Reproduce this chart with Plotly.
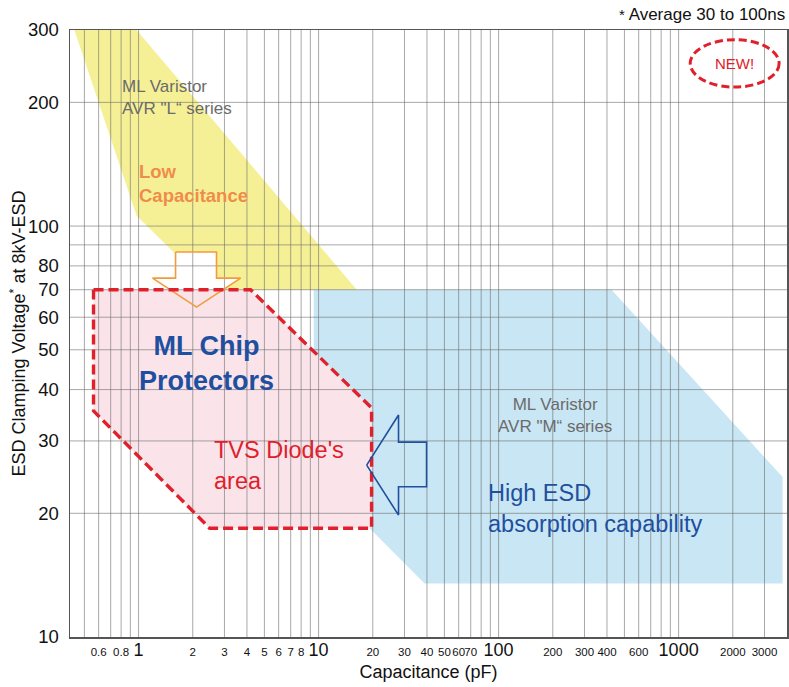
import numpy as np
import plotly.graph_objects as go

FONT = "Liberation Sans, Arial, Helvetica, sans-serif"

# ---- axis extents / grid / ticks ----
X_RANGE = [0.416, 4000]
Y_RANGE = [10, 300]
X_GRID = [0.5, 0.6, 0.7, 0.8, 0.9, 1, 2, 3, 4, 5, 6, 7, 8, 9,
          10, 20, 30, 40, 50, 60, 70, 80, 90,
          100, 200, 300, 400, 500, 600, 700, 800, 900, 1000, 2000, 3000]
Y_GRID = [20, 30, 40, 50, 60, 70, 80, 90, 100, 200]
X_TICKS = [0.6, 0.8, 1, 2, 3, 4, 5, 6, 7, 8, 10, 20, 30, 40, 50, 60, 70,
           100, 200, 300, 400, 600, 1000, 2000, 3000]
X_TICK_TEXT = ["0.6", "0.8", "1", "2", "3", "4", "5", "6", "7", "8", "10", "20",
               "30", "40", "50", "60", "70", "100", "200", "300", "400", "600",
               "1000", "2000", "3000"]
X_MAJOR = ["1", "10", "100", "1000"]
Y_TICKS = [10, 20, 30, 40, 50, 60, 70, 80, 100, 200, 300]
Y_TICK_TEXT = ["10", "20", "30", "40", "50", "60", "70", "80", "100", "200", "300"]

# ---- regions (capacitance pF, clamping voltage V) ----
avr_l_cap = [0.44, 0.975, 16.3, 2.55, 0.975, 0.44]
avr_l_volt = [300, 300, 70, 70, 106, 300]
avr_m_cap = [9.4, 424, 3780, 3780, 38.8, 9.4, 9.4]
avr_m_volt = [70, 70, 24.5, 13.5, 13.5, 25.2, 70]
tvs_cap = [0.562, 4.19, 19.7, 19.7, 2.48, 0.562, 0.562]
tvs_volt = [70, 70, 36.1, 18.4, 18.4, 35.5, 70]
low_arrow_cap = [1.605, 2.71, 2.71, 3.69, 2.10, 1.196, 1.605, 1.605]
low_arrow_volt = [86.5, 86.5, 74.7, 74.7, 63.5, 74.7, 74.7, 86.5]
high_arrow_cap = [18.5, 27.8, 27.8, 39.8, 39.8, 27.8, 27.8, 18.5]
high_arrow_volt = [26.2, 34.7, 29.8, 29.8, 23.2, 23.2, 19.8, 26.2]

# ---- labels ----
labels = [
    # text, cap, volt, xanchor, size, color, bold
    ("ML Varistor<br>AVR \"L“ series", 0.784, 205, "left", 17, "#6b6b6b", False),
    ("Low<br>Capacitance", 0.985, 127, "left", 18.5, "#f08c4a", True),
    ("ML Chip<br>Protectors", 2.39, 46.4, "center", 27, "#1f4f9f", True),
    ("TVS Diode's<br>area", 2.55, 26.1, "left", 23.5, "#e0202a", False),
    ("ML Varistor<br>AVR \"M“ series", 205, 34.5, "center", 17, "#6b6b6b", False),
    ("High ESD<br>absorption capability", 84.7, 20.6, "left", 23.5, "#1f4f9f", False),
]

RED = "#e0202a"
fig = go.Figure()

def poly(xs, ys, fill=None, line=None, dash=None, width=0):
    fig.add_trace(go.Scatter(
        x=xs, y=ys, mode="lines",
        fill="toself" if fill else None, fillcolor=fill,
        line=dict(color=line if line else "rgba(0,0,0,0)", width=width, dash=dash),
        hoverinfo="skip", showlegend=False))

# fills
poly(avr_l_cap, avr_l_volt, fill="#f5f096")
poly(avr_m_cap, avr_m_volt, fill="#c9e6f4")
poly(low_arrow_cap, low_arrow_volt, fill="white")
poly(tvs_cap, tvs_volt, fill="#fae4ea")

# grid lines (over the filled regions)
gx, gy = [], []
for v in X_GRID:
    gx += [v, v, None]
    gy += [Y_RANGE[0], Y_RANGE[1], None]
for v in Y_GRID:
    gx += [X_RANGE[0], X_RANGE[1], None]
    gy += [v, v, None]
fig.add_trace(go.Scatter(x=gx, y=gy, mode="lines",
                         line=dict(color="rgba(105,105,105,0.58)", width=1),
                         hoverinfo="skip", showlegend=False))

# outlines
poly(low_arrow_cap, low_arrow_volt, line="#f39a3c", width=1.6)
poly(tvs_cap, tvs_volt, line=RED, dash="10px,5px", width=3.4)
poly(high_arrow_cap, high_arrow_volt, line="#1f4f9f", width=1.6)

annotations = []
for text, cx, vy, xa, size, color, bold in labels:
    annotations.append(dict(
        x=np.log10(cx), y=np.log10(vy), xref="x", yref="y",
        text=f"<b>{text}</b>" if bold else text, showarrow=False,
        xanchor=xa, yanchor="middle", align=xa if xa != "center" else "center",
        font=dict(family=FONT, size=size, color=color)))

annotations.append(dict(
    x=1.0, y=1.0, xref="paper", yref="paper", xanchor="right", yanchor="bottom",
    yshift=4, showarrow=False,
    text="<span style='font-size:15px'>*</span> Average 30 to 100ns",
    font=dict(family=FONT, size=17, color="#111")))
annotations.append(dict(
    x=0.927, y=0.945, xref="paper", yref="paper", xanchor="center", yanchor="middle",
    showarrow=False, text="NEW!", font=dict(family=FONT, size=15, color=RED)))
# y axis title
annotations.append(dict(
    x=-0.0725, y=0.5, xref="paper", yref="paper", xanchor="center", yanchor="middle",
    textangle=-90, showarrow=False,
    text="ESD Clamping Voltage<sup>*</sup> at 8kV-ESD",
    font=dict(family=FONT, size=18, color="#111")))

shapes = [dict(type="circle", xref="paper", yref="paper",
               x0=0.865, x1=0.989, y0=0.906, y1=0.984,
               line=dict(color=RED, width=3, dash="8px,4px"))]

x_text = [f"<span style='font-size:18px'>{t}</span>" if t in X_MAJOR else t
          for t in X_TICK_TEXT]

fig.update_layout(
    width=789, height=687,
    margin=dict(l=70, r=2, t=30, b=50, autoexpand=False),
    paper_bgcolor="white", plot_bgcolor="white",
    font=dict(family=FONT, color="#111"),
    hovermode=False,
    annotations=annotations, shapes=shapes,
    xaxis=dict(type="log", range=[np.log10(X_RANGE[0]), np.log10(X_RANGE[1])],
               showgrid=False, zeroline=False,
               showline=True, mirror=True, linecolor="#555", linewidth=1.5,
               tickmode="array", tickvals=X_TICKS, ticktext=x_text,
               ticks="", tickangle=0, tickfont=dict(family=FONT, size=11.5, color="#111"),
               ticklabelstandoff=4,
               title=dict(text="Capacitance (pF)", standoff=6,
                          font=dict(family=FONT, size=18, color="#111"))),
    yaxis=dict(type="log", range=[np.log10(Y_RANGE[0]), np.log10(Y_RANGE[1])],
               showgrid=False, zeroline=False,
               showline=True, mirror=True, linecolor="#555", linewidth=1.5,
               tickmode="array", tickvals=Y_TICKS, ticktext=Y_TICK_TEXT,
               ticks="", tickfont=dict(family=FONT, size=18.5, color="#111"),
               ticklabelstandoff=6),
)

# remove the browser's default page margin so the figure sits at the window origin
fig.write_html("out.html",
               config={"displayModeBar": False, "staticPlot": True},
               post_script="document.body.style.margin='0';"
                           "document.documentElement.style.overflow='hidden';")
